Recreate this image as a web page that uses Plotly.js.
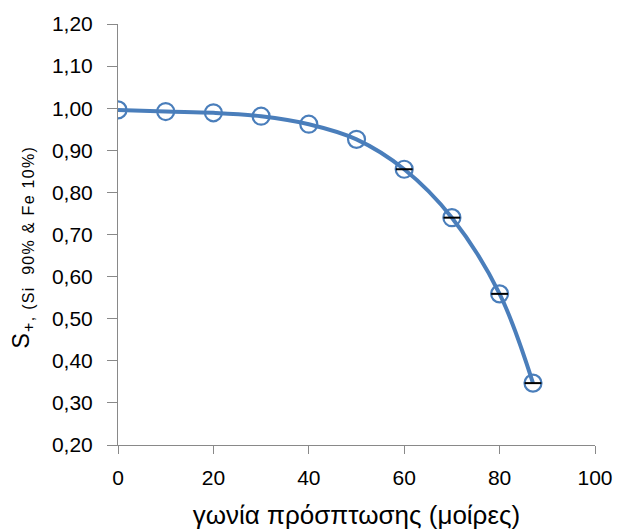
<!DOCTYPE html>
<html>
<head>
<meta charset="utf-8">
<script src="https://cdn.plot.ly/plotly-3.0.1.min.js"></script>
<style>
html,body{margin:0;padding:0;background:#fff;}
#chart{width:619px;height:530px;}
#chart .annotation-text{letter-spacing:1.3px;}
</style>
</head>
<body>
<div id="chart"></div>
<script>
// Data
const angles = [0, 10, 20, 30, 40, 50, 60, 70, 80, 87];
const sPlus = [0.996, 0.992, 0.989, 0.981, 0.962, 0.926, 0.855, 0.740, 0.559, 0.347];
const dashAngles = [60, 70, 80, 87];
const dashValues = [0.855, 0.740, 0.559, 0.347];
const xTickVals = [0, 20, 40, 60, 80, 100];
const yTickVals = [0.20, 0.30, 0.40, 0.50, 0.60, 0.70, 0.80, 0.90, 1.00, 1.10, 1.20];
const xTitle = 'γωνία πρόσπτωσης (μοίρες)';
const yTitle = 'S<sub><span style="font-size:16px">+, (Si  90% &amp; Fe 10%)</span></sub>';

const blue = '#4a7ebb';
const axisGray = '#898989';
const font = 'Liberation Sans, Arial, sans-serif';

const traces = [
  {
    x: angles, y: sPlus, type: 'scatter', mode: 'lines',
    line: {color: blue, width: 4, shape: 'spline', smoothing: 1},
    hoverinfo: 'skip', showlegend: false
  },
  {
    x: angles, y: sPlus, type: 'scatter', mode: 'markers',
    marker: {symbol: 'circle-open', size: 17, color: blue, line: {color: blue, width: 2.2}},
    showlegend: false
  },
  {
    x: dashAngles, y: dashValues, type: 'scatter', mode: 'markers',
    marker: {symbol: 'line-ew', size: 12, color: '#000', line: {color: '#000', width: 2}},
    showlegend: false
  }
];

const layout = {
  width: 619, height: 530,
  margin: {l: 118, r: 24, t: 24, b: 85},
  paper_bgcolor: '#fff', plot_bgcolor: '#fff',
  separators: ',.',
  font: {family: font, color: '#000', size: 21},
  showlegend: false,
  xaxis: {
    range: [0, 100], tickvals: xTickVals, ticktext: xTickVals.map(String),
    showgrid: false, zeroline: false,
    showline: true, linecolor: axisGray, linewidth: 1,
    ticks: 'outside', ticklen: 8, tickcolor: axisGray, tickwidth: 1,
    tickfont: {size: 21, family: font, color: '#000'},
    ticklabelstandoff: 6,
    title: {text: xTitle, font: {size: 26, family: font, color: '#000'}, standoff: 18}
  },
  yaxis: {
    range: [0.20, 1.20], tickvals: yTickVals, tickformat: '.2f',
    showgrid: false, zeroline: false,
    showline: true, linecolor: axisGray, linewidth: 1,
    ticks: 'outside', ticklen: 10, tickcolor: axisGray, tickwidth: 1,
    tickfont: {size: 21, family: font, color: '#000'},
    ticklabelstandoff: 10
  },
  annotations: [{
    text: yTitle, textangle: -90, showarrow: false,
    xref: 'paper', yref: 'paper', x: -0.201, y: 0.47,
    xanchor: 'center', yanchor: 'middle',
    font: {size: 23, family: font, color: '#000'}
  }]
};

Plotly.newPlot('chart', traces, layout, {displayModeBar: false, staticPlot: true});
</script>
</body>
</html>
